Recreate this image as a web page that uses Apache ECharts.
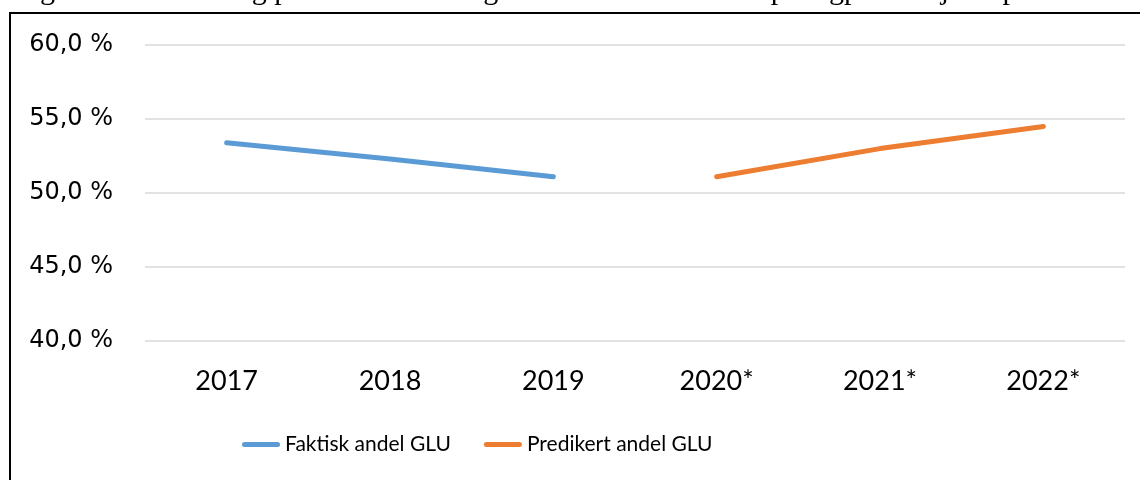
<!DOCTYPE html>
<html><head><meta charset="utf-8">
<script src="https://cdn.jsdelivr.net/npm/echarts@6/dist/echarts.min.js"></script>
<style>html,body{margin:0;padding:0;background:#fff}#c{width:1140px;height:480px}</style>
</head><body><div id="c"></div>
<script>
const captionText = 'Figur 4.1: Faktisk og predikert utvikling i andel GLU av studiepoengproduksjon i pa';
const categories = ['2017', '2018', '2019', '2020*', '2021*', '2022*'];
const faktisk = [53.4, 52.3, 51.1, null, null, null];
const predikert = [null, null, null, 51.1, 53.0, 54.5];
const seriesNames = ['Faktisk andel GLU', 'Predikert andel GLU'];
const seriesColors = ['#5B9BD5', '#ED7D31'];
const yMin = 40, yMax = 60, yStep = 5;

const capsule = 'path://M2.5,0 L35.5,0 A2.5,2.5 0 0 1 35.5,5 L2.5,5 A2.5,2.5 0 0 1 2.5,0 Z';

const chart = echarts.init(document.getElementById('c'), null, {renderer: 'canvas'});
chart.setOption({
  animation: false,
  backgroundColor: '#fff',
  graphic: [
    {type: 'rect', shape: {x: 10, y: 13, width: 1300, height: 700},
     style: {fill: 'none', stroke: '#000', lineWidth: 2}, z: 100},
    {type: 'text', left: 15, top: -24,
     style: {text: captionText, font: '30px "Liberation Serif"', fill: '#000'}}
  ],
  grid: {left: 145, right: 15, top: 45, bottom: 139},
  legend: {
    left: 242, top: 434, padding: 0, itemWidth: 38, itemHeight: 5, itemGap: 33,
    textStyle: {fontFamily: 'Lato', fontSize: 21, color: '#000'},
    data: seriesNames.map((n) => ({name: n, icon: capsule}))
  },
  xAxis: {
    type: 'category', data: categories, boundaryGap: true,
    axisLine: {show: false}, axisTick: {show: false},
    axisLabel: {margin: 27, fontFamily: 'Lato', fontSize: 27, color: '#000'}
  },
  yAxis: {
    type: 'value', min: yMin, max: yMax, interval: yStep,
    axisLine: {show: false}, axisTick: {show: false},
    axisLabel: {margin: 32, fontFamily: 'DejaVu Sans', fontSize: 24, color: '#000',
      formatter: (v) => v.toFixed(1).replace('.', ',') + ' %'},
    splitLine: {lineStyle: {color: '#d9d9d9', width: 1.5}}
  },
  series: [
    {name: seriesNames[0], type: 'line', data: faktisk, showSymbol: false, symbol: 'none',
     color: seriesColors[0], lineStyle: {width: 5, cap: 'round', join: 'round', color: seriesColors[0]}},
    {name: seriesNames[1], type: 'line', data: predikert, showSymbol: false, symbol: 'none',
     color: seriesColors[1], lineStyle: {width: 5, cap: 'round', join: 'round', color: seriesColors[1]}}
  ]
});
</script>
</body></html>
